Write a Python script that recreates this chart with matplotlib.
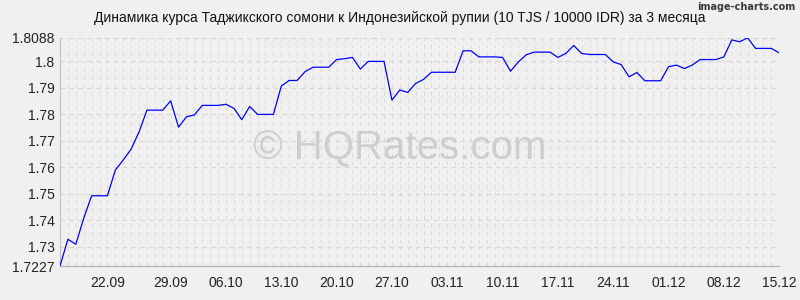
import matplotlib
matplotlib.use('Agg')
import matplotlib.pyplot as plt
import numpy as np

plt.rcParams['font.family'] = ['Liberation Sans', 'DejaVu Sans']

# курс TJS/IDR, по дням (92 точки)
rates = [1.7227, 1.7328, 1.7309, 1.7407, 1.7492, 1.7492, 1.7492, 1.7589, 1.7627, 1.7668,
         1.7733, 1.7815, 1.7815, 1.7815, 1.7850, 1.7751, 1.7790, 1.7797, 1.7833, 1.7833,
         1.7833, 1.7837, 1.7822, 1.7779, 1.7829, 1.7799, 1.7799, 1.7799, 1.7906, 1.7927,
         1.7927, 1.7960, 1.7977, 1.7977, 1.7977, 1.8006, 1.8009, 1.8014, 1.7970, 1.7999,
         1.7999, 1.7999, 1.7853, 1.7891, 1.7882, 1.7916, 1.7931, 1.7958, 1.7958, 1.7958,
         1.7958, 1.8039, 1.8039, 1.8016, 1.8016, 1.8016, 1.8014, 1.7962, 1.7997, 1.8024,
         1.8034, 1.8034, 1.8034, 1.8014, 1.8029, 1.8059, 1.8029, 1.8025, 1.8025, 1.8025,
         1.7997, 1.7987, 1.7941, 1.7957, 1.7926, 1.7926, 1.7926, 1.7979, 1.7985, 1.7972,
         1.7985, 1.8006, 1.8006, 1.8006, 1.8016, 1.8080, 1.8073, 1.8088, 1.8048, 1.8048,
         1.8048, 1.8031]

date_pos = [6, 14, 21, 28, 35, 42, 49, 56, 63, 70, 77, 84, 91]
date_labels = ['22.09', '29.09', '06.10', '13.10', '20.10', '27.10', '03.11',
               '10.11', '17.11', '24.11', '01.12', '08.12', '15.12']
y_ticks = [1.7227, 1.73, 1.74, 1.75, 1.76, 1.77, 1.78, 1.79, 1.8, 1.8088]
y_labels = ['1.7227', '1.73', '1.74', '1.75', '1.76', '1.77', '1.78', '1.79', '1.8', '1.8088']

bg = '#f0f0f0'
fig = plt.figure(figsize=(8, 3), dpi=100, facecolor=bg)
ax = fig.add_axes([0.075, 0.1133, 0.899, 0.7607])
ax.set_facecolor(bg)

x = np.arange(len(rates))

# сетка: вертикальная на каждую точку, горизонтальная по делениям
for xi in x:
    ax.axvline(xi, color='#d8d8d8', lw=0.7, ls=(0, (4, 4)), zorder=1)
for yt in y_ticks[1:]:
    ax.axhline(yt, color='#d4d4d4', lw=0.8, ls=(0, (4, 4)), zorder=1)

ax.plot(x, rates, color='#0000ff', lw=0.9, zorder=3)

ax.set_xlim(0, len(rates) - 1)
ax.set_ylim(1.7227, 1.8088)

ax.set_xticks(date_pos)
ax.set_xticklabels(date_labels)
ax.set_yticks(y_ticks)
ax.set_yticklabels(y_labels)
ax.tick_params(axis='both', length=0, labelsize=10, colors='#222222')
ax.tick_params(axis='x', pad=7)
ax.tick_params(axis='y', pad=4)

for s in ['top', 'right']:
    ax.spines[s].set_visible(False)
ax.spines['left'].set_color('#c0c0c0')
ax.spines['left'].set_linewidth(0.8)
ax.spines['bottom'].set_color('#b0b0b0')
ax.spines['bottom'].set_linewidth(0.8)

fig.text(0.5, 1 - 18 / 300, 'Динамика курса Таджикского сомони к Индонезийской рупии (10 TJS / 10000 IDR) за 3 месяца',
         ha='center', va='center', fontsize=10, color='#111111')
fig.text(0.5, 1 - 148 / 300, '© HQRates.com', ha='center', va='center',
         fontsize=29, color='#c8c8c8', alpha=0.85, zorder=0)
fig.text(0.994, 1 - 7 / 300, 'image-charts.com', ha='right', va='center',
         fontsize=7, color='#3a3a3a', weight='bold',
         family=['DejaVu Sans Condensed', 'DejaVu Sans'])

fig.savefig('out.png', dpi=100, facecolor=bg)
